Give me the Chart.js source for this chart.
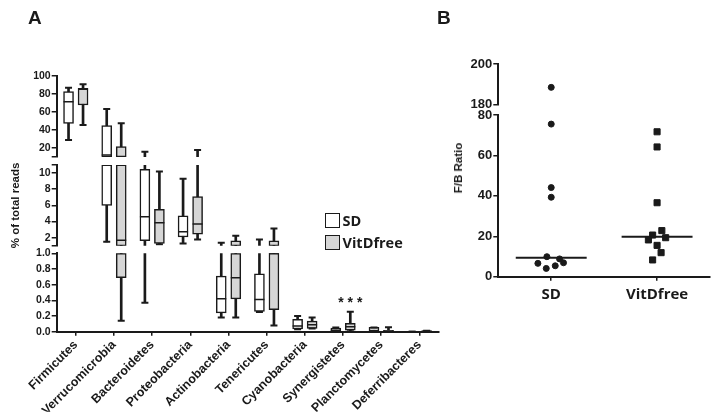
<!DOCTYPE html>
<html>
<head>
<meta charset="utf-8">
<script src="https://cdn.jsdelivr.net/npm/chart.js@4/dist/chart.umd.min.js"></script>
<style>
  body { margin: 0; background: #fff; }
  #wrap { position: relative; width: 719px; height: 418px; overflow: hidden; font-family: 'Liberation Sans', Arial, sans-serif; color: #1a1a1a; }
  #chartA { position: absolute; left: 0; top: 0; }
  #chartB { position: absolute; left: 445px; top: 0; }
  .panel { position: absolute; font-weight: bold; font-size: 19px; line-height: 19px; }
  .swatch { position: absolute; left: 325px; width: 15px; height: 15px; box-sizing: border-box; border: 1.5px solid #1a1a1a; }
  .lgtext { position: absolute; left: 342.5px; font-family: 'Open Sans', sans-serif; font-weight: 700; font-size: 14.5px; line-height: 15px; white-space: nowrap; }
  #ytitleB { position: absolute; left: 458px; top: 168px; transform: translate(-50%, -50%) rotate(-90deg); font-weight: bold; font-size: 11.5px; white-space: nowrap; }
</style>
</head>
<body>
<div id="wrap">
  <canvas id="chartA" width="445" height="418"></canvas>
  <canvas id="chartB" width="274" height="418"></canvas>
  <div class="panel" style="left:28px; top:7.5px;">A</div>
  <div class="panel" style="left:437px; top:7.5px;">B</div>
  <div class="swatch" style="top:213px; background:#ffffff;"></div>
  <div class="swatch" style="top:235px; background:#d6d6d6;"></div>
  <div class="lgtext" style="top:213px;">SD</div>
  <div class="lgtext" style="top:234.5px;">VitDfree</div>
  <div id="ytitleB">F/B Ratio</div>
</div>
<script>
// ---- Panel A data: phylum abundance, % of total reads ---------
var categories = ['Firmicutes', 'Verrucomicrobia', 'Bacteroidetes', 'Proteobacteria', 'Actinobacteria',
  'Tenericutes', 'Cyanobacteria', 'Synergistetes', 'Planctomycetes', 'Deferribacteres'];

// SD group: whisker low, Q1, median, Q3, whisker high
var sdMin = [28.9, 1.5, 0.37, 1.3, 0.18, 0.25, 0.03, 0.0, 0.0, 0.0];
var sdQ1  = [47.4, 6.0, 1.63, 2.1, 0.24, 0.26, 0.035, 0.005, 0.0, 0.0];
var sdMed = [71.4, 12.2, 4.6, 2.74, 0.42, 0.41, 0.073, 0.02, 0.01, 0.0];
var sdQ3  = [82.6, 44.8, 10.46, 4.7, 0.71, 0.74, 0.158, 0.045, 0.055, 0.0];
var sdMax = [87.0, 63.3, 15.9, 9.3, 1.4, 1.8, 0.2, 0.055, 0.055, 0.0];

// VitDfree group
var vdMin = [45.6, 0.14, 1.2, 1.8, 0.18, 0.08, 0.04, 0.005, 0.0, 0.002];
var vdQ1  = [67.8, 0.69, 1.3, 2.45, 0.42, 0.28, 0.043, 0.02, 0.0, 0.002];
var vdMed = [85.2, 1.7, 3.85, 3.7, 0.69, 1.0, 0.09, 0.064, 0.008, 0.006];
var vdQ3  = [86.3, 21.4, 5.5, 7.1, 1.63, 1.63, 0.136, 0.107, 0.018, 0.012];
var vdMax = [90.8, 47.4, 10.2, 17.8, 2.25, 3.15, 0.18, 0.255, 0.056, 0.012];

// ---- Panel A broken y axis: three segments ---------------------
var segTopRange = [10, 100];
var segTopTicks = [10, 20, 40, 60, 80, 100];
var segTopLabels = ['', '20', '40', '60', '80', '100'];
var segMidRange = [1, 11];
var segMidTicks = [1, 2, 4, 6, 8, 10, 11];
var segMidLabels = ['', '2', '4', '6', '8', '10', ''];
var segBotRange = [0, 1];
var segBotTicks = [0, 0.2, 0.4, 0.6, 0.8, 1.0];
var segBotLabels = ['0.0', '0.2', '0.4', '0.6', '0.8', '1.0'];

// significance mark above Synergistetes / VitDfree
var sigIndex = 7;
var sigValue = 0.37;
var sigText = '* * *';

// ---- Panel B data: F/B ratio per animal -------------------------
var ratioGroups = ['SD', 'VitDfree'];
var ratioSD = [188.4, 75.5, 44.1, 39.3, 9.9, 8.8, 6.9, 6.6, 5.4, 4.1];
var ratioSDJitter = [0, 0, 0, 0, -0.041, 0.079, 0.116, -0.126, 0.038, -0.047];
var ratioVD = [71.7, 64.2, 36.6, 22.8, 20.6, 19.3, 18.2, 15.5, 11.9, 8.3];
var ratioVDJitter = [0, 0, 0, 0.045, -0.042, 0.081, -0.082, 0, 0.038, -0.042];
var ratioMedian = [9.4, 19.8];
var ratioTopRange = [180, 200];
var ratioTopTicks = [180, 200];
var ratioBotRange = [0, 80];
var ratioBotTicks = [0, 20, 40, 60, 80];

// ---- Shared styling ---------------------------------------------
var ink = '#1a1a1a';
var sansBold = "'Liberation Sans', Arial, sans-serif";
var groups = [
  { min: sdMin, q1: sdQ1, med: sdMed, q3: sdQ3, max: sdMax, offset: -0.19, fill: '#ffffff' },
  { min: vdMin, q1: vdQ1, med: vdMed, q3: vdQ3, max: vdMax, offset: 0.19, fill: '#d6d6d6' }
];

// ---- Clip a [lo, hi] range to one axis segment -------------------
function piece(lo, hi, range) {
  if (hi < range[0] || lo > range[1]) return null;
  var a = Math.max(lo, range[0]);
  var b = Math.min(hi, range[1]);
  var clipped = a > lo || b < hi;
  if (clipped && (b - a) < 0.02 * (range[1] - range[0])) return null;
  return [a, b];
}

function segmentOf(v) {
  if (v <= segBotRange[1]) return 'yBot';
  if (v <= segMidRange[1]) return 'yMid';
  return 'yTop';
}

// ---- Build box plot pieces for each segment ------------------------
var segmentsA = [
  { id: 'yTop', range: segTopRange },
  { id: 'yMid', range: segMidRange },
  { id: 'yBot', range: segBotRange }
];
var datasetsA = [];
segmentsA.forEach(function (seg) {
  var stems = [], boxes = [], fills = [], meds = [], caps = [];
  groups.forEach(function (g) {
    for (var i = 0; i < categories.length; i++) {
      var x = i + g.offset;
      var s = piece(g.min[i], g.max[i], seg.range);
      if (s) stems.push({ x: x, y: s });
      var b = piece(g.q1[i], g.q3[i], seg.range);
      if (b) { boxes.push({ x: x, y: b }); fills.push(g.fill); }
      if (segmentOf(g.med[i]) === seg.id) meds.push({ x: x, y: g.med[i] });
      if (segmentOf(g.min[i]) === seg.id) caps.push({ x: x, y: g.min[i] });
      if (segmentOf(g.max[i]) === seg.id) caps.push({ x: x, y: g.max[i] });
    }
  });
  datasetsA.push({ type: 'bar', yAxisID: seg.id, data: stems, backgroundColor: ink, borderWidth: 0,
    barThickness: 2, maxBarThickness: 2, grouped: false, order: 3 });
  datasetsA.push({ type: 'bar', yAxisID: seg.id, data: boxes, backgroundColor: fills, borderColor: ink,
    borderWidth: 1.5, borderSkipped: false, barThickness: 10, maxBarThickness: 10, grouped: false, order: 2 });
  datasetsA.push({ type: 'scatter', yAxisID: seg.id, data: meds, pointStyle: 'line', pointRadius: 5,
    pointBorderWidth: 1.5, pointBorderColor: ink, order: 1 });
  datasetsA.push({ type: 'scatter', yAxisID: seg.id, data: caps, pointStyle: 'line', pointRadius: 3.5,
    pointBorderWidth: 2, pointBorderColor: ink, order: 1 });
});

// ---- Axis helpers ------------------------------------------------
function segAxis(range, ticks, labels, weight, stackWeight, width, fontSize, extra) {
  var axis = {
    type: 'linear', position: 'left', stack: 'left', weight: weight, stackWeight: stackWeight,
    min: range[0], max: range[1],
    border: { display: true, width: 2, color: ink },
    grid: { display: true, drawOnChartArea: false, drawTicks: true, tickLength: 5, color: ink, lineWidth: 1.5 },
    ticks: {
      autoSkip: false, padding: 1, color: ink,
      font: { family: sansBold, size: fontSize, weight: 'bold' },
      callback: function (v, i) { return labels[i]; }
    },
    afterBuildTicks: function (s) { s.ticks = ticks.map(function (v) { return { value: v }; }); },
    afterFit: function (s) { s.width = width; }
  };
  if (extra) Object.keys(extra).forEach(function (k) { axis[k] = extra[k]; });
  return axis;
}

function gapAxis(weight, stackWeight) {
  return {
    type: 'linear', position: 'left', stack: 'left', weight: weight, stackWeight: stackWeight,
    min: 0, max: 1,
    border: { display: false }, grid: { display: false }, ticks: { display: false },
    afterFit: function (s) { s.width = 0; }
  };
}

// ---- Significance text plugin --------------------------------------
var sigPlugin = {
  id: 'sigMark',
  afterDatasetsDraw: function (chart) {
    var ctx = chart.ctx;
    var px = chart.scales.x.getPixelForValue(sigIndex + groups[1].offset);
    var py = chart.scales.yBot.getPixelForValue(sigValue);
    ctx.save();
    ctx.font = 'bold 14px ' + sansBold;
    ctx.fillStyle = ink;
    ctx.textAlign = 'center';
    ctx.textBaseline = 'middle';
    ctx.fillText(sigText, px, py);
    ctx.restore();
  }
};

// ---- Panel A chart -------------------------------------------------
new Chart(document.getElementById('chartA'), {
  type: 'bar',
  data: { datasets: datasetsA },
  options: {
    responsive: false,
    animation: false,
    events: [],
    layout: { padding: { left: 0, top: 76, right: 5, bottom: 6.3 } },
    plugins: { legend: { display: false }, tooltip: { enabled: false } },
    scales: {
      x: {
        type: 'linear', min: -0.5, max: 9.5, offset: false,
        border: { display: true, width: 2, color: ink },
        grid: { display: true, offset: false, drawOnChartArea: false, drawTicks: true, tickLength: 4, color: ink, lineWidth: 1.5 },
        ticks: {
          autoSkip: false, minRotation: 45, maxRotation: 45, padding: 2, color: ink,
          font: { family: sansBold, size: 12.5, weight: 'bold' },
          callback: function (v) { return categories[v]; }
        },
        afterBuildTicks: function (s) { s.ticks = categories.map(function (c, i) { return { value: i }; }); },
        afterFit: function (s) { s.height = 80; }
      },
      yTop: segAxis(segTopRange, segTopTicks, segTopLabels, 5, 81, 56.7, 10.5),
      gapA1: gapAxis(4, 8),
      yMid: segAxis(segMidRange, segMidTicks, segMidLabels, 3, 81, 56.7, 10.5, {
        title: { display: true, text: '% of total reads', color: ink, padding: { top: 9, bottom: 0 },
          font: { family: sansBold, size: 11.5, weight: 'bold' } }
      }),
      gapA2: gapAxis(2, 7.5),
      yBot: segAxis(segBotRange, segBotTicks, segBotLabels, 1, 78.4, 56.7, 10.5)
    }
  },
  plugins: [sigPlugin]
});

// ---- Panel B datasets ----------------------------------------------
function ratioPoints(values, jitter, center, range) {
  var out = [];
  for (var i = 0; i < values.length; i++) {
    if (values[i] >= range[0] && values[i] <= range[1]) out.push({ x: center + jitter[i], y: values[i] });
  }
  return out;
}

var medianHalfWidth = 0.335;
var datasetsB = [];
[['yTop', ratioTopRange], ['yBot', ratioBotRange]].forEach(function (seg) {
  datasetsB.push({ type: 'scatter', yAxisID: seg[0], data: ratioPoints(ratioSD, ratioSDJitter, 0, seg[1]),
    pointStyle: 'circle', pointRadius: 3, pointBorderWidth: 1, pointBackgroundColor: ink, pointBorderColor: ink });
  datasetsB.push({ type: 'scatter', yAxisID: seg[0], data: ratioPoints(ratioVD, ratioVDJitter, 1, seg[1]),
    pointStyle: 'rect', pointRadius: 4.3, pointBorderWidth: 1, pointBackgroundColor: ink, pointBorderColor: ink });
});
ratioMedian.forEach(function (m, gi) {
  datasetsB.push({ type: 'line', yAxisID: 'yBot', data: [{ x: gi - medianHalfWidth, y: m }, { x: gi + medianHalfWidth, y: m }],
    borderColor: ink, borderWidth: 2, pointRadius: 0, fill: false });
});

// ---- Panel B chart -------------------------------------------------
new Chart(document.getElementById('chartB'), {
  type: 'scatter',
  data: { datasets: datasetsB },
  options: {
    responsive: false,
    animation: false,
    events: [],
    layout: { padding: { left: 0, top: 64, right: 9, bottom: 101.3 } },
    plugins: { legend: { display: false }, tooltip: { enabled: false } },
    scales: {
      x: {
        type: 'linear', min: -0.5, max: 1.5,
        border: { display: true, width: 2, color: ink },
        grid: { display: true, drawOnChartArea: false, drawTicks: true, tickLength: 4, color: ink, lineWidth: 1.5 },
        ticks: {
          autoSkip: false, maxRotation: 0, padding: 5, color: ink,
          font: { family: "'Open Sans', sans-serif", size: 15, weight: 'bold' },
          callback: function (v) { return ratioGroups[v]; }
        },
        afterBuildTicks: function (s) { s.ticks = ratioGroups.map(function (c, i) { return { value: i }; }); },
        afterFit: function (s) { s.height = 40; }
      },
      yTop: segAxis(ratioTopRange, ratioTopTicks, ratioTopTicks.map(String), 3, 40.3, 53.3, 13),
      gapB: gapAxis(2, 10.7),
      yBot: segAxis(ratioBotRange, ratioBotTicks, ratioBotTicks.map(String), 1, 161.7, 53.3, 13)
    }
  }
});
</script>
</body>
</html>
